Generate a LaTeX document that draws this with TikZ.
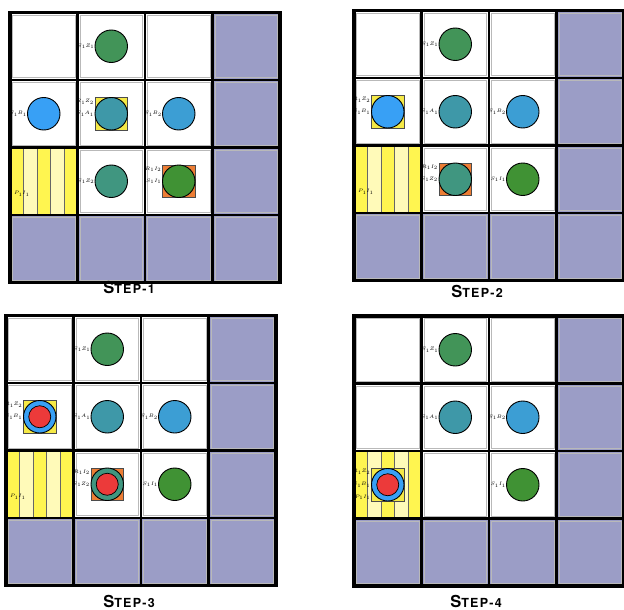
\documentclass[tikz,border=0pt]{standalone}
\usepackage{fontspec}
\setsansfont{TeX Gyre Heros}
\definecolor{cpurple}{RGB}{155,157,198}
\definecolor{cgreenA}{RGB}{66,148,88}
\definecolor{cblue}{RGB}{56,160,245}
\definecolor{cteal}{RGB}{62,152,168}
\definecolor{cblueB}{RGB}{60,158,212}
\definecolor{ctealgreen}{RGB}{64,150,128}
\definecolor{cgreen}{RGB}{64,146,52}
\definecolor{yellowA}{RGB}{255,245,80}
\definecolor{yellowB}{RGB}{255,250,185}
\definecolor{csq}{RGB}{245,233,70}
\definecolor{corange}{RGB}{236,125,52}
\definecolor{cred}{RGB}{236,58,58}
\tikzset{
  disc/.style={circle,draw=black,line width=0.9pt,minimum size=32.5pt,inner sep=0pt},
  innerdisc/.style={circle,draw=black,line width=0.7pt,minimum size=22pt,inner sep=0pt,fill=cred},
  sqbox/.style={rectangle,draw=black!70,line width=0.8pt,minimum size=32.5pt,inner sep=0pt},
  lbl/.style={inner sep=0pt,anchor=east,font=\fontsize{3.6}{4}\selectfont},
  gl/.style={line width=2.8pt,black},
  cellgray/.style={draw=gray!55,line width=0.6pt},
  steplbl/.style={anchor=base,inner sep=0pt,font=\sffamily\bfseries\addfontfeature{LetterSpace=10}}
}
\newcommand\gridbase{%
  \fill[cpurple] (0,0) rectangle (270,270);
  \fill[white] (0,0) rectangle (202.5,202.5);
  \foreach \i in {0,...,3}{\foreach \j in {0,...,3}{%
    \draw[cellgray] ({\i*67.5+2.5},{\j*67.5+2.5}) rectangle ({\i*67.5+65},{\j*67.5+65});}}%
}
\newcommand\stripes{%
  \foreach \k/\cl in {0/yellowA,1/yellowB,2/yellowA,3/yellowB,4/yellowA}{%
    \fill[\cl] ({\k*13.5},135) rectangle ({\k*13.5+13.5},202.5);}%
  \foreach \k in {1,2,3,4}{\draw[black!60,line width=0.8pt] ({\k*13.5},135) -- ({\k*13.5},202.5);}%
}
\newcommand\gridlines{%
  \foreach \k in {1,2,3}{%
    \draw[gl] ({\k*67.5},0) -- ({\k*67.5},270);
    \draw[gl] (0,{\k*67.5}) -- (270,{\k*67.5});}%
  \draw[gl,line width=3.2pt] (0,0) rectangle (270,270);
}
\newcommand\steptext[1]{\fontsize{16.5}{16.5}\selectfont S\fontsize{12.5}{12.5}\selectfont TEP-#1}
\begin{document}
\begin{tikzpicture}[x=1pt,y=-1pt]
\useasboundingbox (0,0) rectangle (624,610);
% ---------------- Step 1
\begin{scope}[shift={(10,12.5)}]
  \gridbase \stripes \gridlines
  \node[disc,fill=cgreenA] (a01) at (101.25,33.75) {};
  \node[lbl] (a01l) at (84.5,33.75) {$S_1Z_1$};
  \node[disc,fill=cblue] (a10) at (33.75,101.25) {};
  \node[lbl] (a10l) at (17,101.25) {$S_1B_1$};
  \node[sqbox,fill=csq] (a11s) at (101.25,101.25) {};
  \node[disc,fill=cteal] (a11) at (101.25,101.25) {};
  \node[lbl] (a11l) at (84,89.5) {$R_1Z_2$};
  \node[lbl] (a11m) at (84,101.25) {$S_1A_1$};
  \node[disc,fill=cblueB] (a12) at (168.75,101.25) {};
  \node[lbl] (a12l) at (152,101.25) {$S_1B_2$};
  \node[disc,fill=ctealgreen] (a21) at (101.25,168.75) {};
  \node[lbl] (a21l) at (84.5,168.75) {$S_1Z_2$};
  \node[sqbox,fill=corange] (a22s) at (168.75,168.75) {};
  \node[disc,fill=cgreen] (a22) at (168.75,168.75) {};
  \node[lbl] (a22l) at (151.5,157) {$R_1I_2$};
  \node[lbl] (a22m) at (151.5,168.75) {$S_1I_1$};
  \node[lbl,anchor=west] (a20l) at (4,181.5) {$P_1I_1$};
\end{scope}
\node[steplbl] (t1) at (129,293) {\steptext{1}};
% ---------------- Step 2
\begin{scope}[shift={(354,10.5)}]
  \gridbase \stripes \gridlines
  \node[disc,fill=cgreenA] (b01) at (101.25,33.75) {};
  \node[lbl] (b01l) at (84.5,33.75) {$S_1Z_1$};
  \node[sqbox,fill=csq] (b10s) at (33.75,101.25) {};
  \node[disc,fill=cblue] (b10) at (33.75,101.25) {};
  \node[lbl] (b10l) at (16.5,89.5) {$R_1Z_2$};
  \node[lbl] (b10m) at (16.5,101.25) {$S_1B_1$};
  \node[disc,fill=cteal] (b11) at (101.25,101.25) {};
  \node[lbl] (b11l) at (84.5,101.25) {$S_1A_1$};
  \node[disc,fill=cblueB] (b12) at (168.75,101.25) {};
  \node[lbl] (b12l) at (152,101.25) {$S_1B_2$};
  \node[sqbox,fill=corange] (b21s) at (101.25,168.75) {};
  \node[disc,fill=ctealgreen] (b21) at (101.25,168.75) {};
  \node[lbl] (b21l) at (84,157) {$R_1I_2$};
  \node[lbl] (b21m) at (84,168.75) {$S_1Z_2$};
  \node[disc,fill=cgreen] (b22) at (168.75,168.75) {};
  \node[lbl] (b22l) at (152,168.75) {$S_1I_1$};
  \node[lbl,anchor=west] (b20l) at (4,181.5) {$P_1I_1$};
\end{scope}
\node[steplbl] (t2) at (477,297) {\steptext{2}};
% ---------------- Step 3
\begin{scope}[shift={(6,315.5)}]
  \gridbase \stripes \gridlines
  \node[disc,fill=cgreenA] (c01) at (101.25,33.75) {};
  \node[lbl] (c01l) at (84.5,33.75) {$S_1Z_1$};
  \node[sqbox,fill=csq] (c10s) at (33.75,101.25) {};
  \node[disc,fill=cblue] (c10) at (33.75,101.25) {};
  \node[innerdisc] (c10r) at (33.75,101.25) {};
  \node[lbl] (c10l) at (16.5,89.5) {$R_1Z_2$};
  \node[lbl] (c10m) at (16.5,101.25) {$S_1B_1$};
  \node[disc,fill=cteal] (c11) at (101.25,101.25) {};
  \node[lbl] (c11l) at (84.5,101.25) {$S_1A_1$};
  \node[disc,fill=cblueB] (c12) at (168.75,101.25) {};
  \node[lbl] (c12l) at (152,101.25) {$S_1B_2$};
  \node[sqbox,fill=corange] (c21s) at (101.25,168.75) {};
  \node[disc,fill=ctealgreen] (c21) at (101.25,168.75) {};
  \node[innerdisc] (c21r) at (101.25,168.75) {};
  \node[lbl] (c21l) at (84,157) {$R_1I_2$};
  \node[lbl] (c21m) at (84,168.75) {$S_1Z_2$};
  \node[disc,fill=cgreen] (c22) at (168.75,168.75) {};
  \node[lbl] (c22l) at (152,168.75) {$S_1I_1$};
  \node[lbl,anchor=west] (c20l) at (4,181.5) {$P_1I_1$};
\end{scope}
\node[steplbl] (t3) at (129,607.5) {\steptext{3}};
% ---------------- Step 4
\begin{scope}[shift={(354,316)}]
  \gridbase \stripes \gridlines
  \node[disc,fill=cgreenA] (d01) at (101.25,33.75) {};
  \node[lbl] (d01l) at (84.5,33.75) {$S_1Z_1$};
  \node[disc,fill=cteal] (d11) at (101.25,101.25) {};
  \node[lbl] (d11l) at (84.5,101.25) {$S_1A_1$};
  \node[disc,fill=cblueB] (d12) at (168.75,101.25) {};
  \node[lbl] (d12l) at (152,101.25) {$S_1B_2$};
  \node[sqbox,fill=csq] (d20s) at (33.75,168.75) {};
  \node[disc,fill=cblue] (d20) at (33.75,168.75) {};
  \node[innerdisc] (d20r) at (33.75,168.75) {};
  \node[lbl] (d20l) at (16.5,156) {$R_1Z_2$};
  \node[lbl] (d20m) at (16.5,168.75) {$S_1B_1$};
  \node[lbl] (d20n) at (16.5,181.5) {$P_1I_1$};
  \node[disc,fill=cgreen] (d22) at (168.75,168.75) {};
  \node[lbl] (d22l) at (152,168.75) {$S_1I_1$};
\end{scope}
\node[steplbl] (t4) at (476,607.5) {\steptext{4}};
\end{tikzpicture}
\end{document}
